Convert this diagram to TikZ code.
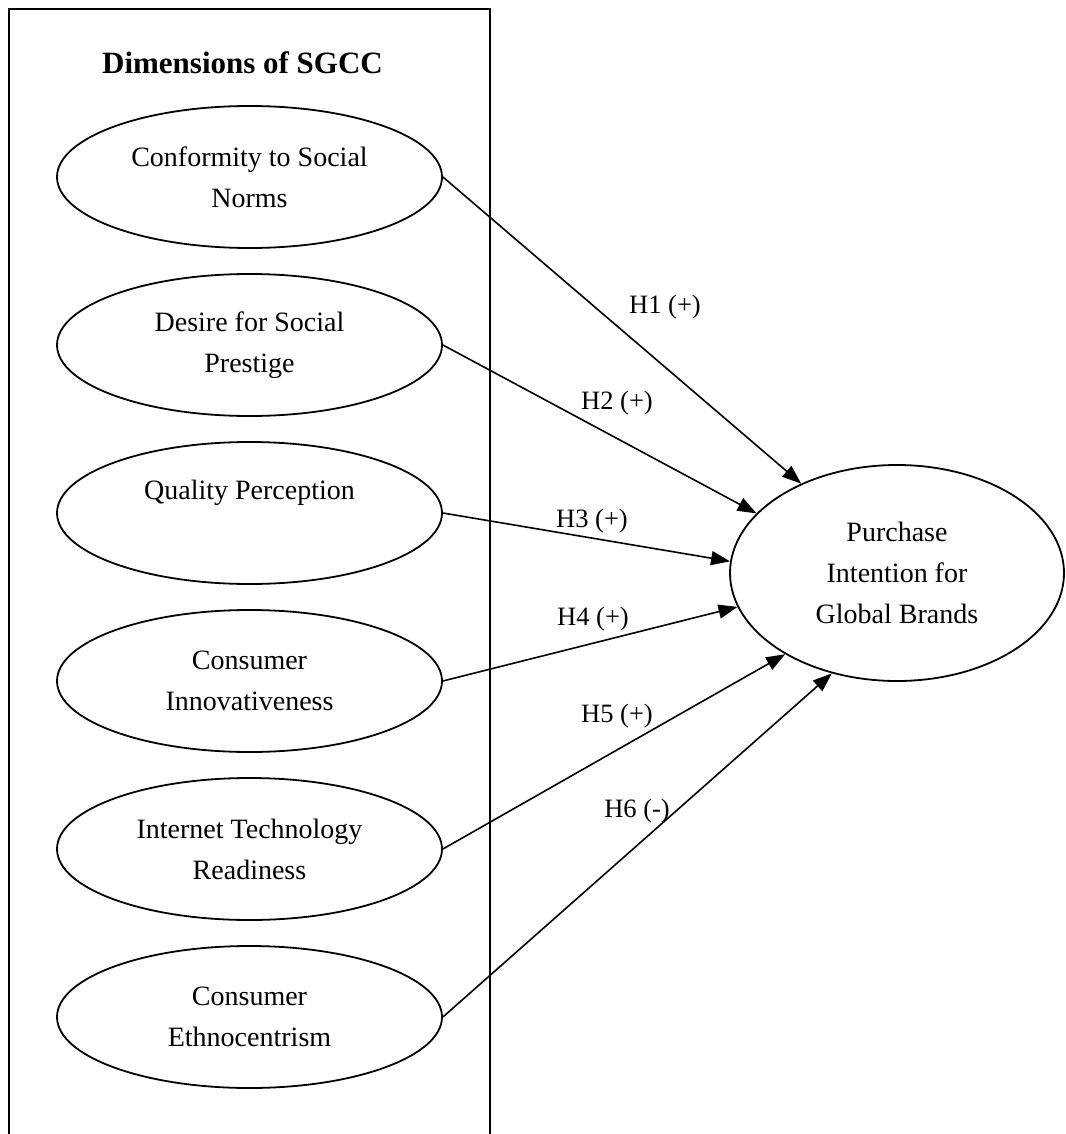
\documentclass[tikz,border=0pt]{standalone}
\usepackage{fontspec}
\setmainfont{Liberation Serif}
\usetikzlibrary{shapes.geometric,arrows.meta}
\begin{document}
\begin{tikzpicture}[x=1pt,y=-1pt,
  dim/.style={ellipse,draw,line width=1.8pt,minimum width=385pt,minimum height=142pt,
    inner sep=0pt,align=center,font=\fontsize{28}{41}\selectfont},
  outcome/.style={ellipse,draw,line width=1.8pt,minimum width=334pt,minimum height=216pt,
    inner sep=0pt,align=center,font=\fontsize{28}{41}\selectfont},
  hyp/.style={line width=1.6pt,-{Triangle[length=19pt,width=14pt]}},
  lab/.style={anchor=base,inner sep=0pt,font=\fontsize{26.5}{32}\selectfont},
  frame/.style={line width=1.8pt}]
\useasboundingbox (0,0) rectangle (1065,1134);
\draw[frame] (9,1134) -- (9,9) -- (490,9) -- (490,1134);
\node[anchor=base,inner sep=0pt,font=\fontsize{31}{37}\selectfont\bfseries] (title) at (242.5,74) {Dimensions of SGCC};

\node[dim] (e1) at (249.5,177) {Conformity to Social\\Norms};
\node[dim] (e2) at (249.5,345) {Desire for Social\\Prestige};
\node[dim] (e3) at (249.5,513) {Quality Perception\\\phantom{Qy}};
\node[dim] (e4) at (249.5,681) {Consumer\\Innovativeness};
\node[dim] (e5) at (249.5,849) {Internet Technology\\Readiness};
\node[dim] (e6) at (249.5,1017) {Consumer\\Ethnocentrism};

\node[outcome] (pi) at (897,573) {Purchase\\Intention for\\Global Brands};

\draw[hyp] (e1.east) -- (pi.137.6);
\draw[hyp] (e2.east) -- (pi.157.4);
\draw[hyp] (e3.east) -- (pi.176.3);
\draw[hyp] (e4.east) -- (pi.192.4);
\draw[hyp] (e5.east) -- (pi.216.4);
\draw[hyp] (e6.east) -- (pi.237.6);

\node[lab] (l1) at (665,313) {H1 (+)};
\node[lab] (l2) at (617,409) {H2 (+)};
\node[lab] (l3) at (592,527) {H3 (+)};
\node[lab] (l4) at (593,625) {H4 (+)};
\node[lab] (l5) at (617,722) {H5 (+)};
\node[lab] (l6) at (637,817) {H6 (-)};
\end{tikzpicture}
\end{document}
